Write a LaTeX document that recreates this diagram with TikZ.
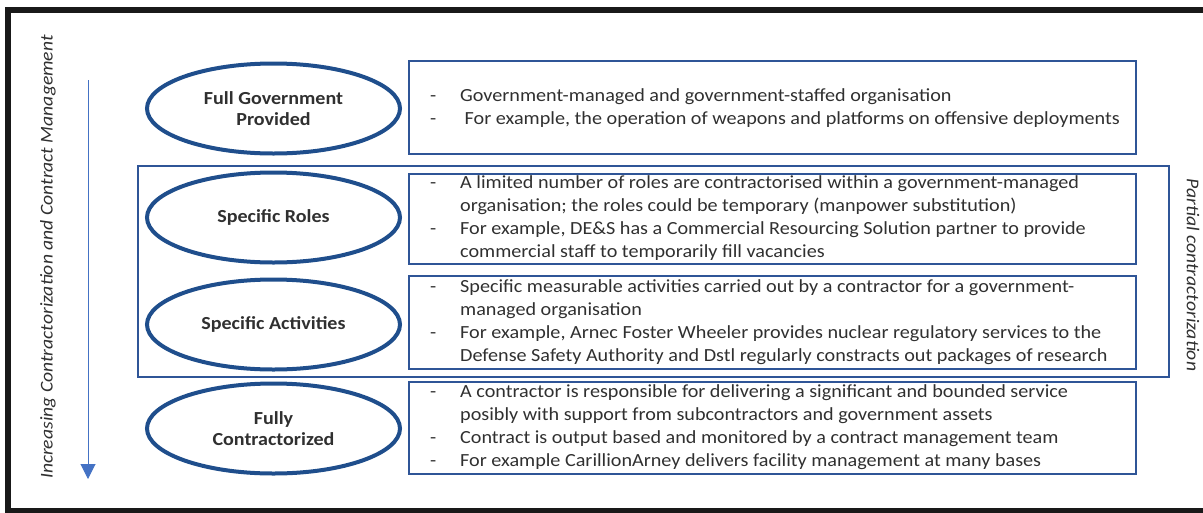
\documentclass[tikz,border=0pt]{standalone}
\usepackage{fontspec}
\setmainfont{Carlito}[FakeStretch=1.09]
\usetikzlibrary{shapes.geometric,arrows.meta}
\definecolor{ellblue}{HTML}{1F4E8C}
\definecolor{boxblue}{HTML}{2F5597}
\definecolor{arrblue}{HTML}{4472C4}
\definecolor{txt}{HTML}{303030}
\tikzset{
  ell/.style={ellipse, draw=ellblue, line width=4pt, minimum width=253pt, minimum height=90pt, inner sep=0pt, font=\fontsize{18.4}{21.5}\selectfont\bfseries, text=txt, align=center},
  box/.style={draw=boxblue, line width=1.8pt},
  body/.style={anchor=west, inner sep=0pt, text=txt, font=\fontsize{18.5}{23}\selectfont},
  side/.style={inner sep=0pt, text=txt, font=\fontsize{18}{20}\selectfont\itshape},
  frame/.style={draw=black!90, line width=6pt}
}
\newcommand{\dl}{\makebox[30pt][l]{-}}
\begin{document}
\begin{tikzpicture}[x=1pt,y=-1pt]
\useasboundingbox (0,0) rectangle (1203,512);
% frame
\draw[frame] (1210,10) -- (8,10) -- (8,510.5) -- (1210,510.5);
% left label and arrow
\node[side, rotate=90] (lefttxt) at (48,257) {Increasing Contractorization and Contract Management};
\coordinate (atop) at (88,80);
\coordinate (abot) at (88,479);
\draw[arrblue, line width=1pt, -{Triangle[width=15pt,length=15pt]}] (atop) -- (abot);
% partial box
\node[box, minimum width=1031pt, minimum height=211pt, inner sep=0pt, anchor=north west] (partial) at (137,165) {};
\node[side, rotate=-90] (righttxt) at (1193,275) {Partial contractorization};
% text boxes
\node[box, minimum width=727pt, minimum height=93pt, inner sep=0pt, anchor=north west] (b1) at (408,60) {};
\node[box, minimum width=727pt, minimum height=90pt, inner sep=0pt, anchor=north west] (b2) at (408,173) {};
\node[box, minimum width=727pt, minimum height=93pt, inner sep=0pt, anchor=north west] (b3) at (408,275) {};
\node[box, minimum width=727pt, minimum height=92pt, inner sep=0pt, anchor=north west] (b4) at (408,381) {};
% ellipses
\node[ell] (e1) at (273.5,108.5) {Full Government\\Provided};
\node[ell] (e2) at (273.5,217.5) {Specific Roles};
\node[ell] (e3) at (273.5,324.5) {Specific Activities};
\node[ell] (e4) at (273.5,428.5) {Fully\\Contractorized};
% body texts
\node[body] (t1) at (430,108.5) {\begin{tabular}{@{}l@{}}
\dl Government-managed and government-staffed organisation\\
\dl \ For example, the operation of weapons and platforms on offensive deployments
\end{tabular}};
\node[body] (t2) at (430,218.5) {\begin{tabular}{@{}l@{}}
\dl A limited number of roles are contractorised within a government-managed\\
\makebox[30pt]{}organisation; the roles could be temporary (manpower substitution)\\
\dl For example, DE\&S has a Commercial Resourcing Solution partner to provide\\
\makebox[30pt]{}commercial staff to temporarily fill vacancies
\end{tabular}};
\node[body] (t3) at (430,322.5) {\begin{tabular}{@{}l@{}}
\dl Specific measurable activities carried out by a contractor for a government-\\
\makebox[30pt]{}managed organisation\\
\dl For example, Arnec Foster Wheeler provides nuclear regulatory services to the\\
\makebox[30pt]{}Defense Safety Authority and Dstl regularly constracts out packages of research
\end{tabular}};
\node[body] (t4) at (430,427.5) {\begin{tabular}{@{}l@{}}
\dl A contractor is responsible for delivering a significant and bounded service\\
\makebox[30pt]{}posibly with support from subcontractors and government assets\\
\dl Contract is output based and monitored by a contract management team\\
\dl For example CarillionArney delivers facility management at many bases
\end{tabular}};
\end{tikzpicture}
\end{document}
